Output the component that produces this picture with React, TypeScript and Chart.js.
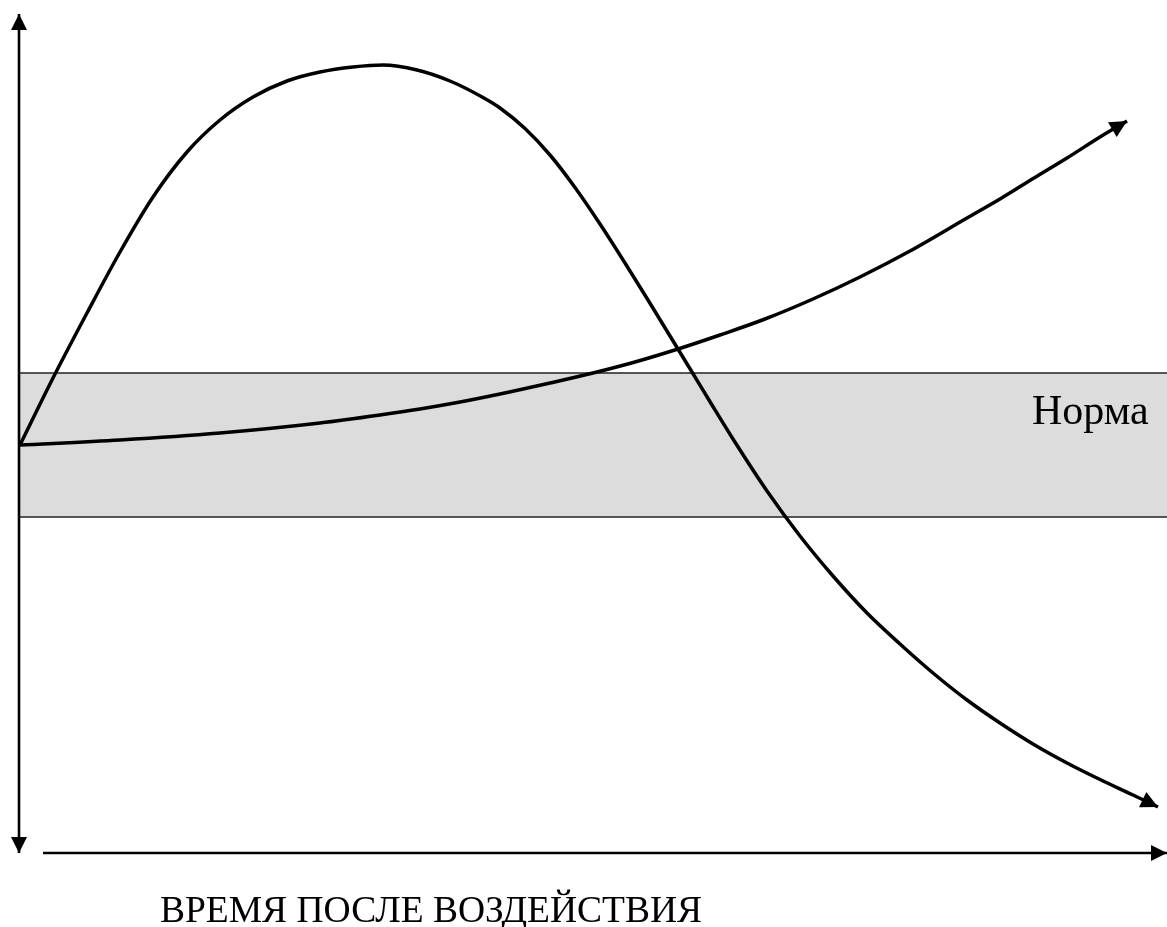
import React, { useEffect, useRef } from "react";
import { Chart, registerables } from "chart.js";

Chart.register(...registerables);

// Schematic units: time after exposure (x) and level relative to the baseline (y)
const bellTime = [0, 33, 67, 100, 133, 167, 200, 233, 267, 300, 333, 363, 397, 430, 463, 480, 505, 530, 555, 580, 605, 628, 650, 672, 692, 713, 747, 780, 813, 847, 880, 913, 947, 980, 1013, 1047, 1080, 1113, 1138];
const bellLevel = [0, 67, 132, 193, 248, 293, 325, 348, 364, 373, 378, 380, 375, 364, 347.5, 337, 316.5, 290, 257.5, 221, 182, 145, 109, 73, 40, 6, -46, -91, -131, -168, -199, -228, -255, -278, -299, -318, -334.5, -350, -362];

const riseTime = [0, 100, 200, 300, 360, 400, 440, 480, 530, 573, 615, 658, 700, 745, 793, 840, 890, 947, 980, 1014, 1047, 1080, 1107];
const riseLevel = [0, 5, 12, 22, 30, 36, 43, 51, 62, 72, 83, 96, 110, 126, 146, 168, 194, 227, 246, 267, 287, 308, 324];

const normUpper = 72;
const normLower = -72;
const normTimes = [0, 1147];

const timeAxisTimes = [23, 1147];
const timeAxisLevel = -408;
const levelAxisLevels = [431, -408];
const levelAxisTime = -1;

const normLabel = "Норма";
const timeLabel = "ВРЕМЯ ПОСЛЕ ВОЗДЕЙСТВИЯ";

const W = 1167;
const H = 927;

const arrowPlugin = {
  id: "arrowHeads",
  afterDatasetsDraw(chart: any) {
    const ctx = chart.ctx;
    chart.data.datasets.forEach((ds: any, i: number) => {
      const ends: string[] = ds.arrows || [];
      if (!ends.length) return;
      const pts = chart.getDatasetMeta(i).data;
      ends.forEach((end) => {
        const isEnd = end === "end";
        const p = isEnd ? pts[pts.length - 1] : pts[0];
        const q = isEnd ? pts[pts.length - 2] : pts[1];
        let cx = isEnd ? p.cp1x : p.cp2x;
        let cy = isEnd ? p.cp1y : p.cp2y;
        if (cx === undefined || (Math.abs(cx - p.x) < 0.01 && Math.abs(cy - p.y) < 0.01)) {
          cx = q.x;
          cy = q.y;
        }
        let dx = p.x - cx;
        let dy = p.y - cy;
        const len = Math.hypot(dx, dy) || 1;
        dx /= len;
        dy /= len;
        const L = ds.arrowLength || 17;
        const hw = ds.arrowHalfWidth || 8.5;
        const bx = p.x - dx * L;
        const by = p.y - dy * L;
        ctx.save();
        ctx.fillStyle = "#000";
        ctx.beginPath();
        ctx.moveTo(p.x, p.y);
        ctx.lineTo(bx - dy * hw, by + dx * hw);
        ctx.lineTo(bx + dy * hw, by - dx * hw);
        ctx.closePath();
        ctx.fill();
        ctx.restore();
      });
    });
  },
};

const textPlugin = {
  id: "schemeText",
  afterDraw(chart: any) {
    const ctx = chart.ctx;
    const xs = chart.scales.x;
    const ys = chart.scales.y;
    ctx.save();
    ctx.fillStyle = "#000";
    ctx.textAlign = "left";
    ctx.textBaseline = "alphabetic";
    ctx.font = '42px "Liberation Serif", "Times New Roman", serif';
    ctx.fillText(normLabel, xs.getPixelForValue(1012), ys.getPixelForValue(21));
    ctx.font = '37.5px "Liberation Serif", "Times New Roman", serif';
    ctx.fillText(timeLabel, xs.getPixelForValue(140), ys.getPixelForValue(-477));
    ctx.restore();
  },
};

export default function App() {
  const canvasRef = useRef<HTMLCanvasElement | null>(null);

  useEffect(() => {
    if (!canvasRef.current) return;
    const curve = (t: number[], v: number[]) => t.map((x, i) => ({ x, y: v[i] }));
    const chart = new Chart(canvasRef.current, {
      type: "line",
      data: {
        datasets: [
          {
            data: curve(bellTime, bellLevel),
            borderColor: "#000",
            borderWidth: 3.5,
            pointRadius: 0,
            cubicInterpolationMode: "monotone",
            fill: false,
            order: 1,
            arrows: ["end"],
          } as any,
          {
            data: curve(riseTime, riseLevel),
            borderColor: "#000",
            borderWidth: 3.5,
            pointRadius: 0,
            cubicInterpolationMode: "monotone",
            fill: false,
            order: 1,
            arrows: ["end"],
          } as any,
          {
            data: normTimes.map((x) => ({ x, y: normUpper })),
            borderColor: "#222",
            borderWidth: 1.4,
            pointRadius: 0,
            backgroundColor: "#dcdcdc",
            fill: "+1",
            order: 10,
          } as any,
          {
            data: normTimes.map((x) => ({ x, y: normLower })),
            borderColor: "#222",
            borderWidth: 1.4,
            pointRadius: 0,
            fill: false,
            order: 9,
          } as any,
          {
            data: levelAxisLevels.map((y) => ({ x: levelAxisTime, y })),
            borderColor: "#000",
            borderWidth: 2.6,
            pointRadius: 0,
            fill: false,
            order: 5,
            arrows: ["start", "end"],
            arrowLength: 16,
            arrowHalfWidth: 8,
          } as any,
          {
            data: timeAxisTimes.map((x) => ({ x, y: timeAxisLevel })),
            borderColor: "#000",
            borderWidth: 2.6,
            pointRadius: 0,
            fill: false,
            order: 5,
            arrows: ["end"],
            arrowLength: 16,
            arrowHalfWidth: 8,
          } as any,
        ],
      },
      options: {
        animation: false,
        responsive: false,
        events: [],
        layout: { padding: 0 },
        scales: {
          x: { type: "linear", min: -20, max: 1147, display: false },
          y: { type: "linear", min: -482, max: 445, display: false },
        },
        plugins: {
          legend: { display: false },
          tooltip: { enabled: false },
        },
      },
      plugins: [arrowPlugin, textPlugin],
    });
    return () => chart.destroy();
  }, []);

  return (
    <div style={{ position: "absolute", left: 0, top: 0, width: W, height: H, background: "#fff" }}>
      <canvas ref={canvasRef} width={W} height={H} style={{ display: "block" }} />
    </div>
  );
}
